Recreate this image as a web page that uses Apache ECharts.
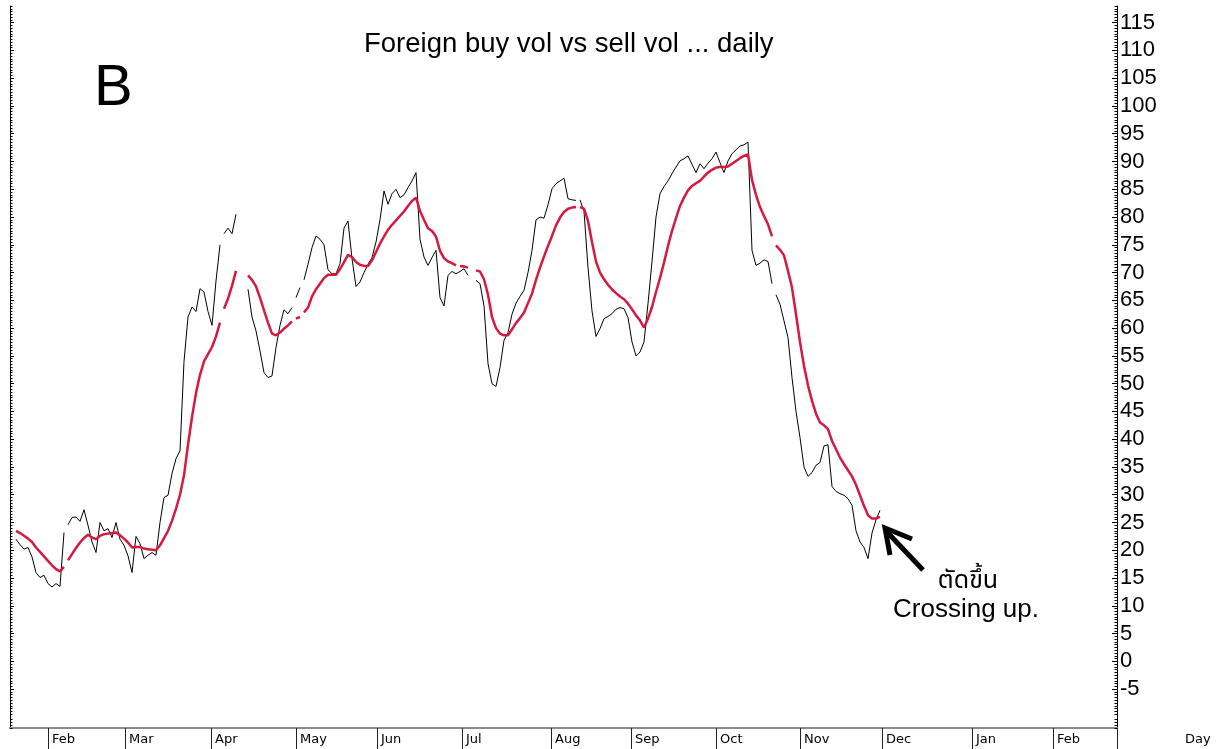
<!DOCTYPE html>
<html>
<head>
<meta charset="utf-8">
<script src="https://cdn.jsdelivr.net/npm/echarts@6/dist/echarts.min.js"></script>
<style>
  html, body { margin: 0; padding: 0; background: #fff; }
  #chart { width: 1221px; height: 749px; }
</style>
</head>
<body>
<div id="chart"></div>
<script>
// trading-day index of the first value in each series
const firstDay = 2

// black line: foreign buy vol vs sell vol (daily)
const buyVol = [
  22.0, 21.0, 20.2, 20.5, 18.8, 16.0, 15.1, 15.5, 14.0, 13.4,
  14.0, 13.5, 23.2, 24.6, 25.9, 26.0, 25.2, 27.3, 24.5, 21.5,
  19.6, 25.0, 23.5, 23.9, 22.3, 25.0, 22.0, 20.9, 19.0, 16.0,
  22.5, 21.2, 18.5, 19.1, 19.6, 19.1, 25.0, 29.5, 29.9, 33.8,
  36.5, 37.9, 54.0, 62.0, 63.8, 63.0, 67.1, 66.5, 63.0, 60.5,
  68.5, 75.0, 77.0, 78.0, 77.0, 80.5, null, null, 67.0, 62.0,
  59.5, 55.9, 52.0, 51.1, 51.4, 56.5, 60.5, 63.3, 62.6, 63.7,
  65.5, 67.3, 68.7, 71.5, 74.5, 76.6, 76.0, 75.0, 70.5, 69.8,
  69.8, 71.6, 78.0, 79.3, 72.5, 67.5, 68.3, 70.0, 71.5, 72.7,
  75.5, 79.5, 84.7, 82.3, 84.2, 85.0, 83.5, 84.0, 85.3, 86.5,
  88.0, 76.0, 72.8, 71.3, 72.7, 74.0, 65.5, 64.0, 69.5, 70.2,
  69.8, 70.2, 70.7, 69.5, null, 68.6, 68.0, 64.0, 53.6, 50.0,
  49.5, 52.9, 57.8, 59.2, 62.5, 64.5, 65.7, 66.8, 70.0, 74.0,
  79.5, 80.0, 79.8, 82.2, 85.1, 86.0, 86.5, 87.0, 83.3, 83.1,
  83.0, 83.1, 81.0, 70.9, 63.1, 58.5, 59.9, 61.7, 62.1, 62.6,
  63.4, 63.7, 63.5, 61.9, 57.5, 55.0, 55.7, 57.5, 64.4, 72.0,
  80.0, 84.2, 85.5, 86.5, 87.8, 89.0, 90.1, 90.5, 91.0, 89.5,
  88.0, 89.6, 88.7, 89.7, 90.5, 91.7, 89.8, 88.0, 90.1, 91.4,
  92.1, 92.8, 93.0, 93.5, 74.0, 71.3, 71.7, 72.3, 72.0, 68.0,
  66.0, 64.3, 61.3, 58.3, 51.1, 45.0, 40.3, 35.0, 33.3, 34.0,
  35.3, 35.8, 38.8, 39.0, 31.5, 30.6, 30.2, 29.9, 29.3, 28.1,
  23.5, 21.5, 20.5, 18.5, 23.1, 25.5, 27.2
]

// red line: smoothed average
const avgLine = [
  23.5, 23.1, 22.6, 22.1, 21.5, 20.5, 19.7, 18.9, 18.1, 17.3,
  16.6, 16.2, 17.0, 18.2, 19.3, 20.4, 21.4, 22.2, 22.8, 22.3,
  22.0, 22.6, 22.9, 23.0, 23.1, 23.2, 22.7, 22.1, 21.4, 20.5,
  20.6, 20.6, 20.3, 20.2, 20.1, 20.0, 20.9, 22.2, 23.5, 25.3,
  27.5, 30.0, 33.5, 39.0, 44.0, 48.3, 51.6, 54.0, 55.3, 56.6,
  58.5, 61.0, 63.5, 65.3, 67.6, 70.3, null, null, 69.5, 68.7,
  67.5, 65.5, 63.2, 61.0, 59.0, 58.7, 59.2, 59.9, 60.5, 61.2,
  61.7, 62.0, 62.8, 63.7, 65.7, 67.0, 68.0, 69.0, 69.6, 69.6,
  69.6, 70.6, 71.9, 73.2, 72.8, 71.9, 71.4, 71.2, 71.2, 72.2,
  73.7, 75.2, 76.5, 77.7, 78.6, 79.4, 80.2, 81.0, 82.0, 82.9,
  83.5, 81.1, 79.5, 78.0, 77.5, 76.5, 73.9, 72.6, 72.0, 71.7,
  71.3, 71.2, 71.1, 70.9, null, 70.4, 70.2, 68.8, 66.0, 62.0,
  60.0, 59.0, 58.7, 58.7, 59.8, 60.9, 61.8, 62.8, 64.5, 66.2,
  68.7, 70.9, 72.9, 74.8, 76.6, 78.5, 79.9, 80.9, 81.5, 81.7,
  81.8, 81.8, 81.5, 79.3, 75.5, 72.0, 70.0, 68.8, 67.8, 67.0,
  66.3, 65.7, 65.2, 64.4, 63.4, 62.3, 61.4, 60.1, 61.7, 63.8,
  66.5, 69.0, 71.8, 74.8, 77.5, 79.8, 82.0, 83.5, 84.8, 85.6,
  86.1, 86.5, 87.3, 88.0, 88.5, 88.9, 89.0, 89.0, 89.1, 89.6,
  90.1, 90.6, 91.0, 91.3, 86.7, 84.0, 81.8, 80.2, 78.7, 76.5,
  74.9, 74.1, 73.1, 70.3, 67.3, 62.5, 57.5, 53.2, 49.7, 46.9,
  44.6, 43.0, 42.5, 41.8, 39.7, 38.2, 36.7, 35.5, 34.4, 33.3,
  31.8, 29.9, 28.0, 26.3, 25.7, 25.7, 26.0
]

// the line is broken between day d and day d+1
const buyBreaks = [14, 53, 71, 73, 142, 191]
const avgBreaks = [14, 53, 71, 73, 112, 142, 191]

// x axis: month starts (trading-day index) and their labels
const monthTicks = [10, 29.25, 50.75, 72, 92.25, 113.5, 135.75, 155.75, 177, 198, 218.5, 241, 261.25]
const monthNames = ['Feb', 'Mar', 'Apr', 'May', 'Jun', 'Jul', 'Aug', 'Sep', 'Oct', 'Nov', 'Dec', 'Jan', 'Feb']
const xMin = 0.5
const xMax = 277.25

// y axis labels
const yTicks = [-5, 0, 5, 10, 15, 20, 25, 30, 35, 40, 45, 50, 55, 60, 65, 70, 75, 80, 85, 90, 95, 100, 105, 110, 115]
const yMin = -12
const yMax = 118

// minor ticks every half unit
const yMinor = []
for (let v = yMin; v <= yMax; v += 0.5) {
  if (v % 5 !== 0) yMinor.push(v)
}

function toSeriesData(values, breaks) {
  const out = []
  values.forEach((v, k) => {
    const day = firstDay + k
    out.push([day, v])
    if (breaks.includes(day)) out.push([day + 0.5, null])
  })
  return out
}

const sansFont = '"Liberation Sans", Arial, sans-serif'
const axisFont = '"DejaVu Sans", sans-serif'

const yBase = {
  type: 'value',
  min: yMin,
  max: yMax,
  splitLine: { show: false },
  axisLabel: { show: false }
}

const chart = echarts.init(document.getElementById('chart'))

chart.setOption({
  animation: false,
  backgroundColor: '#fff',
  title: {
    text: 'Foreign buy vol vs sell vol ... daily',
    left: 364,
    top: 30,
    padding: 0,
    textStyle: { fontFamily: sansFont, fontSize: 27.5, fontWeight: 'normal', color: '#000' }
  },
  grid: { left: 10, right: 104, top: 6, bottom: 21, outerBoundsMode: 'none' },
  xAxis: {
    type: 'value',
    min: xMin,
    max: xMax,
    splitLine: { show: false },
    axisLine: { show: true, onZero: false, lineStyle: { color: '#8a8a8a', width: 2 } },
    axisTick: {
      show: true,
      customValues: monthTicks.concat([xMax]),
      length: 21,
      lineStyle: { color: '#222', width: 1 }
    },
    axisLabel: {
      customValues: monthTicks,
      formatter: (v) => monthNames[monthTicks.indexOf(v)],
      align: 'left',
      padding: [0, 0, 0, 4],
      margin: 5,
      fontFamily: axisFont,
      fontSize: 13,
      color: '#000'
    }
  },
  yAxis: [
    Object.assign({}, yBase, {
      position: 'right',
      axisLine: { show: true, lineStyle: { color: '#000', width: 1 } },
      axisTick: { show: true, inside: true, length: 5, customValues: yTicks, lineStyle: { color: '#000' } },
      axisLabel: {
        show: true,
        customValues: yTicks,
        margin: 3,
        fontFamily: sansFont,
        fontSize: 22,
        color: '#000'
      }
    }),
    Object.assign({}, yBase, {
      position: 'right',
      axisLine: { show: false },
      axisTick: { show: true, inside: true, length: 2.5, customValues: yMinor, lineStyle: { color: '#000' } }
    }),
    Object.assign({}, yBase, {
      position: 'left',
      axisLine: { show: true, lineStyle: { color: '#000', width: 1 } },
      axisTick: { show: true, inside: true, length: 4, customValues: yTicks, lineStyle: { color: '#000' } }
    }),
    Object.assign({}, yBase, {
      position: 'left',
      axisLine: { show: false },
      axisTick: { show: true, inside: true, length: 2.5, customValues: yMinor, lineStyle: { color: '#000' } }
    })
  ],
  series: [
    {
      name: 'buy vs sell',
      type: 'line',
      yAxisIndex: 0,
      data: toSeriesData(buyVol, buyBreaks),
      showSymbol: false,
      connectNulls: false,
      lineStyle: { color: '#000', width: 1 },
      z: 2
    },
    {
      name: 'average',
      type: 'line',
      yAxisIndex: 0,
      data: toSeriesData(avgLine, avgBreaks),
      showSymbol: false,
      connectNulls: false,
      lineStyle: { color: '#d6193f', width: 2.5 },
      z: 3
    }
  ],
  graphic: [
    {
      type: 'text',
      left: 94,
      top: 60,
      style: { text: 'B', font: '58px ' + sansFont, fill: '#000' }
    },
    {
      type: 'text',
      x: 1185,
      y: 740,
      style: { text: 'Day', font: '13px ' + axisFont, fill: '#000', verticalAlign: 'middle' }
    },
    {
      type: 'line',
      shape: { x1: 923, y1: 570, x2: 887, y2: 532 },
      style: { stroke: '#000', lineWidth: 5 }
    },
    {
      type: 'polyline',
      shape: { points: [[912, 539], [885, 528], [890, 555]] },
      style: { stroke: '#000', lineWidth: 5, fill: null }
    },
    {
      type: 'text',
      x: 968,
      y: 583,
      style: {
        text: 'ตัดขึ้น',
        font: '25px Tahoma, "Noto Sans Thai", "Noto Sans", "DejaVu Sans", sans-serif',
        fill: '#000',
        align: 'center',
        verticalAlign: 'middle'
      }
    },
    {
      type: 'text',
      x: 893,
      y: 610,
      style: {
        text: 'Crossing up.',
        font: '26px ' + sansFont,
        fill: '#000',
        align: 'left',
        verticalAlign: 'middle'
      }
    }
  ]
})
</script>
</body>
</html>
